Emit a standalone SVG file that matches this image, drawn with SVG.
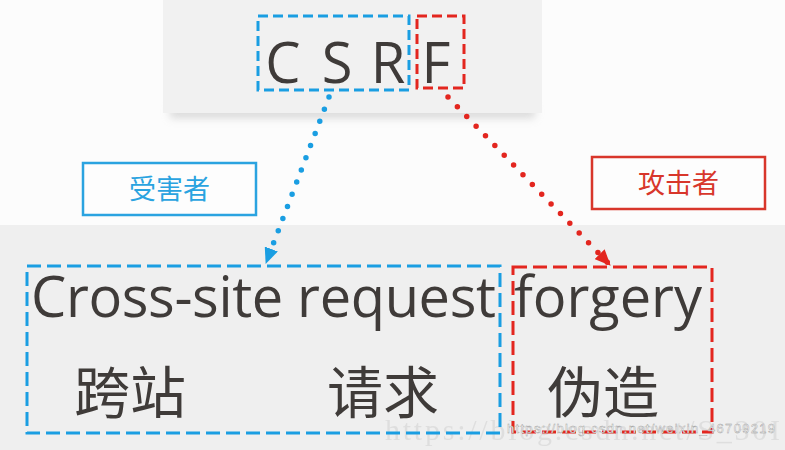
<svg xmlns="http://www.w3.org/2000/svg" width="785" height="450" viewBox="0 0 785 450">
  <defs>
    <style>
      .lat { font-family: "Open Sans", "Noto Sans", sans-serif; fill: #3f3b39; }
      .cjk { font-family: "Noto Sans CJK SC", "Noto Sans", sans-serif; fill: #3f3b39; }
      .dashB { fill: none; stroke: #1a9ee2; stroke-width: 3; }
      .dashR { fill: none; stroke: #e3261f; stroke-width: 3; }
      .dotB { fill: none; stroke: #1a9ee2; stroke-width: 5.5; stroke-linecap: round; stroke-dasharray: 0 13; }
      .dotR { fill: none; stroke: #e3261f; stroke-width: 5.5; stroke-linecap: round; stroke-dasharray: 0 13.5; }
      .tagB { fill: #fdfdfd; stroke: #2aa3e0; stroke-width: 2.5; }
      .tagR { fill: #fdfdfd; stroke: #d8362b; stroke-width: 2.5; }
    </style>
    <filter id="shadow" x="-20%" y="-200%" width="140%" height="500%">
      <feGaussianBlur stdDeviation="4"/>
    </filter>
    <marker id="arrB" viewBox="0 0 16 14" markerWidth="16" markerHeight="14" refX="15" refY="7" orient="auto" markerUnits="userSpaceOnUse">
      <path d="M0,0 L16,7 L0,14 z" fill="#1a9ee2"/>
    </marker>
    <marker id="arrR" viewBox="0 0 16 14" markerWidth="16" markerHeight="14" refX="15" refY="7" orient="auto" markerUnits="userSpaceOnUse">
      <path d="M0,0 L16,7 L0,14 z" fill="#e3261f"/>
    </marker>
  </defs>

  <!-- background -->
  <rect x="0" y="0" width="785" height="450" fill="#fcfcfc"/>
  <rect x="0" y="225" width="785" height="225" fill="#efefef"/>
  <rect x="170" y="106" width="365" height="12" fill="#bdbdbd" opacity="0.55" filter="url(#shadow)"/>
  <rect x="163" y="0" width="379" height="113" fill="#f1f1f1"/>

  <!-- watermark -->
  <text x="385" y="440" font-family="Liberation Serif, serif" font-size="30" fill="#d4d4d4" opacity="0.6" textLength="395">https://blog.csdn.net/S_30I</text>

  <g id="csr">
    <rect class="dashB" x="258" y="16" width="151" height="74" stroke-dasharray="10 5"/>
    <text class="lat" x="283" y="83" font-size="56" text-anchor="middle">C</text>
    <text class="lat" x="337" y="83" font-size="56" text-anchor="middle">S</text>
    <text class="lat" x="388" y="83" font-size="56" text-anchor="middle">R</text>
  </g>

  <g id="f">
    <rect class="dashR" x="417" y="16" width="47" height="72" stroke-dasharray="10 5"/>
    <text class="lat" x="436" y="83" font-size="56" text-anchor="middle">F</text>
  </g>

  <g id="victim">
    <rect class="tagB" x="83" y="163" width="173" height="52"/>
    <text class="cjk" x="169.5" y="199" font-size="27" text-anchor="middle" style="fill:#2aa3e0">受害者</text>
  </g>

  <g id="attacker">
    <rect class="tagR" x="592" y="157" width="173" height="52"/>
    <text class="cjk" x="678.5" y="193" font-size="27" text-anchor="middle" style="fill:#d8362b">攻击者</text>
  </g>

  <g id="csr-full">
    <rect class="dashB" x="27" y="266" width="473" height="167" stroke-dasharray="14 6"/>
    <text class="lat" x="31" y="317" font-size="56" textLength="465">Cross-site request</text>
    <text class="cjk" x="74" y="413" font-size="56">跨站</text>
    <text class="cjk" x="327" y="413" font-size="56">请求</text>
  </g>

  <g id="forgery">
    <rect class="dashR" x="513" y="267" width="199" height="165" stroke-dasharray="14 6"/>
    <text class="lat" x="514" y="317" font-size="56" textLength="188">forgery</text>
    <text class="cjk" x="547" y="413" font-size="56">伪造</text>
  </g>

  <g id="connectors">
    <path class="dotB" d="M329,97 L266,263" marker-end="url(#arrB)"/>
    <path class="dotR" d="M448,97 L610,265" marker-end="url(#arrR)"/>
  </g>

  <text x="507" y="433" font-family="Liberation Sans, sans-serif" font-size="13" fill="#ffffff" stroke="#9a9a9a" stroke-width="0.4" textLength="268">https://blog.csdn.net/weixin_46709219</text>
</svg>
